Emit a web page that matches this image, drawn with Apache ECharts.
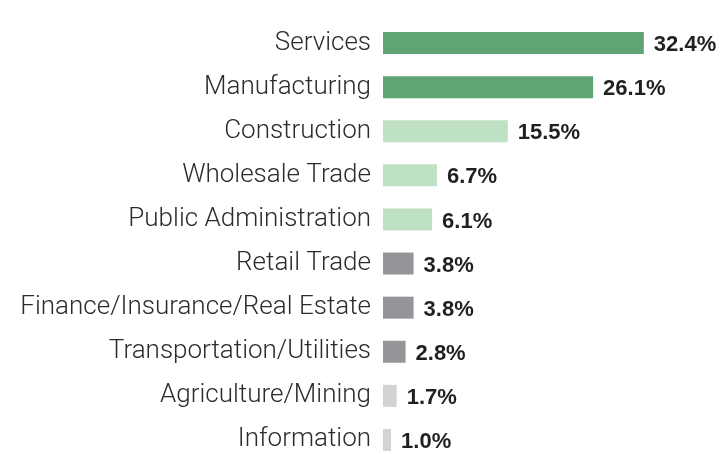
<!DOCTYPE html>
<html>
<head>
<meta charset="utf-8">
<script src="https://cdn.jsdelivr.net/npm/echarts@6/dist/echarts.min.js"></script>
<style>
  html, body { margin: 0; padding: 0; background: #ffffff; }
  #chart { width: 720px; height: 455px; }
</style>
</head>
<body>
<div id="chart"></div>
<script>
// Share of employment by industry (%)
const industries = [
  'Services',
  'Manufacturing',
  'Construction',
  'Wholesale Trade',
  'Public Administration',
  'Retail Trade',
  'Finance/Insurance/Real Estate',
  'Transportation/Utilities',
  'Agriculture/Mining',
  'Information'
];
const shares = [32.4, 26.1, 15.5, 6.7, 6.1, 3.8, 3.8, 2.8, 1.7, 1.0];

// Shade groups: leading sectors, mid sectors, small sectors, smallest sectors
const tierColors = ['#5fa574', '#bee0c3', '#939598', '#d1d3d4'];
function tierOf(v) {
  if (v >= 20) return 0;
  if (v >= 5) return 1;
  if (v >= 2.5) return 2;
  return 3;
}

const chart = echarts.init(document.getElementById('chart'), null, { renderer: 'canvas' });

chart.setOption({
  animation: false,
  backgroundColor: '#ffffff',
  grid: {
    left: 383, top: 21, width: 322, height: 441,
    containLabel: false,
    outerBoundsMode: 'none'
  },
  xAxis: {
    type: 'value',
    min: 0,
    max: 40,
    show: false
  },
  yAxis: {
    type: 'category',
    data: industries,
    inverse: true,
    axisLine: { show: false },
    axisTick: { show: false },
    splitLine: { show: false },
    axisLabel: {
      margin: 12,
      fontFamily: 'Roboto, "Liberation Sans", sans-serif',
      fontSize: 26,
      fontWeight: 300,
      color: '#2b2b2b'
    }
  },
  series: [{
    type: 'bar',
    data: shares,
    barWidth: 22,
    itemStyle: {
      color: p => tierColors[tierOf(p.value)]
    },
    label: {
      show: true,
      position: 'right',
      distance: 10,
      offset: [0, 2],
      formatter: p => p.value.toFixed(1) + '%',
      fontFamily: '"Liberation Sans", Arial, sans-serif',
      fontWeight: 'bold',
      fontSize: 22,
      color: '#231f20'
    }
  }]
});
</script>
</body>
</html>
